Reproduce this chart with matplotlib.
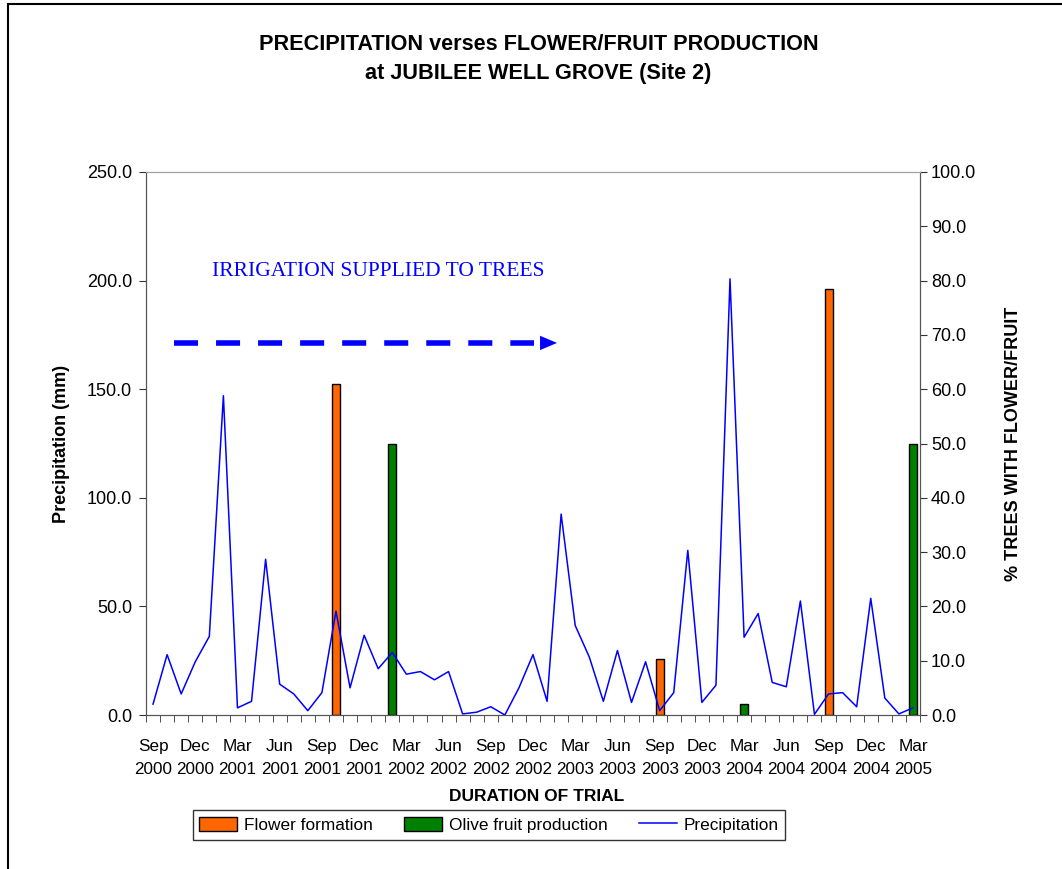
import matplotlib
matplotlib.use("Agg")
import matplotlib.pyplot as plt
from matplotlib.patches import Rectangle, Patch
from matplotlib.lines import Line2D
import numpy as np

plt.rcParams['font.family'] = ['Liberation Sans', 'DejaVu Sans']

# monthly record, Sep 2000 .. Mar 2005
month_names = ['Sep', 'Oct', 'Nov', 'Dec', 'Jan', 'Feb', 'Mar', 'Apr', 'May', 'Jun', 'Jul', 'Aug']
months = []
for i in range(55):
    name = month_names[i % 12]
    year = 2000 + (i + 8) // 12
    months.append(f"{name} {year}")

# rainfall (mm) per month
precip = [5.0, 27.8, 9.7, 24.5, 36.2, 147.0, 3.3, 6.3, 71.7, 14.2,
          9.7, 2.0, 10.3, 47.8, 12.5, 36.7, 21.3, 28.8, 18.8, 20.0,
          16.2, 20.0, 0.5, 1.3, 3.8, 0.0, 12.5, 27.8, 6.3, 92.5,
          41.2, 26.7, 6.3, 29.7, 5.8, 24.5, 2.0, 10.3, 75.8, 5.8,
          13.7, 200.8, 35.8, 46.7, 15.0, 13.0, 52.5, 0.3, 9.7, 10.3,
          3.8, 53.7, 7.8, 0.5, 3.3]

# % of trees flowering / fruiting
flower_months = ['Oct 2001', 'Sep 2003', 'Sep 2004']
flower_pct = [61.0, 10.3, 78.5]
fruit_months = ['Feb 2002', 'Mar 2004', 'Mar 2005']
fruit_pct = [50.0, 2.0, 50.0]

x = np.arange(len(months))
flower_x = [months.index(m) for m in flower_months]
fruit_x = [months.index(m) for m in fruit_months]

fig = plt.figure(figsize=(10.62, 8.69), dpi=100)
ax = fig.add_axes([146 / 1062, 1 - 715 / 869, 774 / 1062, 543 / 869])
ax2 = ax.twinx()
ax.set_zorder(ax2.get_zorder() + 1)
ax.patch.set_visible(False)

ax2.bar(flower_x, flower_pct, width=0.57, color='#ff6600', edgecolor='black', linewidth=1)
ax2.bar(fruit_x, fruit_pct, width=0.57, color='#008000', edgecolor='black', linewidth=1)
ax.plot(x, precip, color='#0000ff', linewidth=1.1)

ax.set_xlim(-0.5, len(months) - 0.5)
ax.set_ylim(0, 250)
ax2.set_ylim(0, 100)
ax.set_yticks(np.arange(0, 251, 50))
ax.set_yticklabels([f"{v:.1f}" for v in np.arange(0, 251, 50)])
ax2.set_yticks(np.arange(0, 101, 10))
ax2.set_yticklabels([f"{v:.1f}" for v in np.arange(0, 101, 10)])

# labels every third month, ticks on every month boundary
lab_idx = x[::3]
ax.set_xticks(lab_idx)
ax.set_xticklabels([months[i].replace(' ', '\n') for i in lab_idx], linespacing=1.72)
ax.set_xticks(np.arange(-0.5, len(months)), minor=True)
ax.tick_params(axis='x', which='major', length=0, pad=17, labelsize=12.3)
ax.tick_params(axis='x', which='minor', length=5, direction='out', color='#333333')
ax.tick_params(axis='y', length=5, direction='out', labelsize=13, pad=5, color='#333333')
ax2.tick_params(axis='y', length=5, direction='out', labelsize=13, pad=3, color='#333333')

for a in (ax, ax2):
    for side in ('left', 'right', 'bottom'):
        a.spines[side].set_color('#555555')
    a.spines['top'].set_color('#a0a0a0')

ax.set_ylabel('Precipitation (mm)', fontsize=13, fontweight='bold')
ax.yaxis.set_label_coords(-0.098, 0.5)
ax2.set_ylabel('% TREES WITH FLOWER/FRUIT', fontsize=13, fontweight='bold')
ax2.yaxis.set_label_coords(1.11, 0.5)
ax.set_xlabel('DURATION OF TRIAL', fontsize=12.5, fontweight='bold')
ax.xaxis.set_label_coords(0.505, -0.137)

# irrigation period marker
ax.text(4.19, 204.4, 'IRRIGATION SUPPLIED TO TREES', family=['Liberation Serif', 'DejaVu Serif'],
        fontsize=15.5, color='#0000ff', ha='left', va='center')
ax.plot([1.49, 27.08], [171.3, 171.3], color='#0000ff', linewidth=4,
        linestyle=(0, (24 / 5.55, 18 / 5.55)), solid_capstyle='butt', dash_capstyle='butt')
ax.fill([27.5, 28.71, 27.5], [174.6, 171.3, 168.0], color='#0000ff', linewidth=0)

fig.text(0.507, 1 - 44 / 869, 'PRECIPITATION verses FLOWER/FRUIT PRODUCTION',
         fontsize=15.6, fontweight='bold', ha='center', va='center')
fig.text(0.507, 1 - 73 / 869, 'at JUBILEE WELL GROVE (Site 2)',
         fontsize=15.6, fontweight='bold', ha='center', va='center')

handles = [Patch(facecolor='#ff6600', edgecolor='black'),
           Patch(facecolor='#008000', edgecolor='black'),
           Line2D([], [], color='#0000ff', linewidth=1.1)]
leg = fig.legend(handles, ['Flower formation', 'Olive fruit production', 'Precipitation'],
                 loc='center', bbox_to_anchor=(489 / 1062, 1 - 825 / 869), ncol=3,
                 fontsize=12.4, frameon=True, fancybox=False, edgecolor='black',
                 handlelength=2.2, handleheight=0.9, columnspacing=1.8, handletextpad=0.4,
                 borderpad=0.4)
leg.get_frame().set_linewidth(1)

fig.patches.append(Rectangle((8 / 1062, -0.1), 1.2, 0.9954 + 0.1, transform=fig.transFigure,
                             fill=False, edgecolor='black', linewidth=1.5))

fig.savefig('out.png', dpi=100)
